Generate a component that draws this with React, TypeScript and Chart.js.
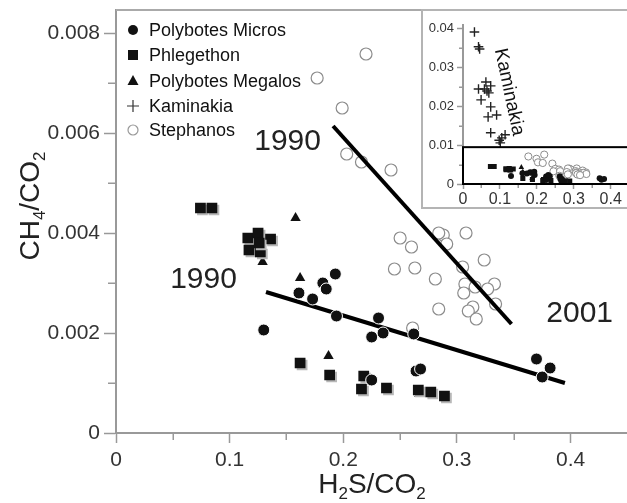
import React, { useEffect, useRef } from 'react';
import { Chart, registerables } from 'chart.js';

Chart.register(...registerables);

const FONT = '"Liberation Sans", Arial, Helvetica, sans-serif';

// ---------------- data ----------------
const seriesNames = ['Polybotes Micros', 'Phlegethon', 'Polybotes Megalos', 'Kaminakia', 'Stephanos'];

const microsX = [0.130, 0.161, 0.173, 0.182, 0.185, 0.193, 0.194, 0.225, 0.231, 0.235, 0.262, 0.225, 0.264, 0.268, 0.370, 0.382, 0.375];
const microsY = [0.00206, 0.0028, 0.00268, 0.0030, 0.00288, 0.00318, 0.00234, 0.00192, 0.0023, 0.0020, 0.00198, 0.00106, 0.00124, 0.00128, 0.00148, 0.0013, 0.00112];

const phlegX = [0.0743, 0.0844, 0.116, 0.125, 0.136, 0.117, 0.127, 0.126, 0.162, 0.188, 0.218, 0.216, 0.238, 0.266, 0.277, 0.289];
const phlegY = [0.0045, 0.0045, 0.0039, 0.0040, 0.00388, 0.00366, 0.00362, 0.0038, 0.0014, 0.00116, 0.00114, 0.00088, 0.0009, 0.00086, 0.00082, 0.00074];

const megalosX = [0.129, 0.158, 0.162, 0.187, 0.267];
const megalosY = [0.00342, 0.0043, 0.0031, 0.00154, 0.00078];

const kaminX = [0.031, 0.042, 0.045, 0.062, 0.042, 0.075, 0.070, 0.049, 0.075, 0.091, 0.068, 0.075, 0.114, 0.105, 0.101, 0.098, 0.058, 0.065];
const kaminY = [0.0392, 0.0354, 0.0348, 0.0263, 0.0245, 0.0253, 0.0235, 0.0217, 0.0199, 0.0178, 0.0173, 0.0132, 0.0127, 0.0119, 0.0106, 0.0113, 0.0245, 0.0240];

const stephX = [0.177, 0.220, 0.199, 0.203, 0.216, 0.242, 0.250, 0.260, 0.245, 0.263, 0.288, 0.291, 0.308, 0.284, 0.281, 0.305, 0.324, 0.307, 0.316, 0.333, 0.327, 0.306, 0.314, 0.310, 0.334, 0.284, 0.317, 0.261];
const stephY = [0.0071, 0.00758, 0.0065, 0.00558, 0.00542, 0.00526, 0.0039, 0.00372, 0.00328, 0.0033, 0.00396, 0.00378, 0.0040, 0.0040, 0.00308, 0.00332, 0.00346, 0.00298, 0.00292, 0.00298, 0.00288, 0.0028, 0.00252, 0.00244, 0.00258, 0.00248, 0.00228, 0.0021];

// regression lines (end points)
const steph1990X = [0.191, 0.348];
const steph1990Y = [0.00614, 0.00218];
const trendX = [0.132, 0.395];
const trendY = [0.00282, 0.0010];

// tick values
const xTicksMain = [0, 0.1, 0.2, 0.3, 0.4];
const xMinorMain = [0.05, 0.15, 0.25, 0.35];
const yTicksMain = [0, 0.002, 0.004, 0.006, 0.008];
const yMinorMain = [0.001, 0.003, 0.005, 0.007];
const xTicksInset = [0, 0.1, 0.2, 0.3, 0.4];
const xMinorInset = [0.05, 0.15, 0.25, 0.35];
const yTicksInset = [0, 0.01, 0.02, 0.03, 0.04];
const yMinorInset = [0.005, 0.015, 0.025, 0.035];

// annotations
const yearTexts = ['1990', '1990', '2001'];
const yearTextX = [0.151, 0.077, 0.408];
const yearTextY = [0.00582, 0.00306, 0.00238];
const insetBoxTop = 0.0095;

const pts = (xs: number[], ys: number[]) => xs.map((x, i) => ({ x, y: ys[i] }));

// ---------------- helpers ----------------
function drawRich(ctx: CanvasRenderingContext2D, parts: [string, boolean][], size: number, color: string) {
  const subSize = Math.round(size * 0.62);
  let total = 0;
  const widths: number[] = [];
  for (const [t, sub] of parts) {
    ctx.font = `${sub ? subSize : size}px ${FONT}`;
    const w = ctx.measureText(t).width;
    widths.push(w);
    total += w;
  }
  let x = -total / 2;
  ctx.fillStyle = color;
  ctx.textBaseline = 'alphabetic';
  ctx.textAlign = 'left';
  parts.forEach(([t, sub], i) => {
    ctx.font = `${sub ? subSize : size}px ${FONT}`;
    ctx.fillText(t, x, sub ? size * 0.2 : 0);
    x += widths[i];
  });
}

function drawMinor(chart: any, xs: number[], ys: number[], xLen: number, yLen: number) {
  const { ctx, chartArea } = chart;
  const sx = chart.scales.x;
  const sy = chart.scales.y;
  ctx.save();
  ctx.strokeStyle = '#999';
  ctx.lineWidth = 1.5;
  ctx.beginPath();
  ys.forEach((v) => {
    const p = Math.round(sy.getPixelForValue(v)) + 0.25;
    ctx.moveTo(chartArea.left - yLen, p);
    ctx.lineTo(chartArea.left, p);
  });
  xs.forEach((v) => {
    const p = Math.round(sx.getPixelForValue(v)) + 0.25;
    ctx.moveTo(p, chartArea.bottom);
    ctx.lineTo(p, chartArea.bottom + xLen);
  });
  ctx.stroke();
  ctx.restore();
}

function legendMarker(ctx: CanvasRenderingContext2D, kind: number, x: number, y: number) {
  ctx.save();
  ctx.fillStyle = '#111';
  ctx.strokeStyle = '#111';
  ctx.beginPath();
  if (kind === 0) {
    ctx.arc(x, y, 5, 0, Math.PI * 2);
    ctx.fill();
  } else if (kind === 1) {
    ctx.fillRect(x - 5, y - 5, 10, 10);
  } else if (kind === 2) {
    ctx.moveTo(x, y - 6);
    ctx.lineTo(x + 5.5, y + 4);
    ctx.lineTo(x - 5.5, y + 4);
    ctx.closePath();
    ctx.fill();
  } else if (kind === 3) {
    ctx.strokeStyle = '#333';
    ctx.lineWidth = 1.2;
    ctx.moveTo(x - 6, y);
    ctx.lineTo(x + 6, y);
    ctx.moveTo(x, y - 6);
    ctx.lineTo(x, y + 6);
    ctx.stroke();
  } else {
    ctx.strokeStyle = '#999';
    ctx.lineWidth = 1.2;
    ctx.arc(x, y, 5, 0, Math.PI * 2);
    ctx.stroke();
  }
  ctx.restore();
}

const shadowPlugin = {
  id: 'squareShadow',
  beforeDatasetDraw(chart: any, args: any) {
    if (chart.data.datasets[args.index].label === 'Phlegethon') {
      const ctx = chart.ctx;
      ctx.save();
      ctx.shadowColor = '#b8b8b8';
      ctx.shadowOffsetX = 2;
      ctx.shadowOffsetY = 2;
      ctx.shadowBlur = 0;
    }
  },
  afterDatasetDraw(chart: any, args: any) {
    if (chart.data.datasets[args.index].label === 'Phlegethon') {
      chart.ctx.restore();
    }
  },
};

const mainDecor = {
  id: 'mainDecor',
  afterDraw(chart: any) {
    const { ctx, chartArea } = chart;
    const sx = chart.scales.x;
    const sy = chart.scales.y;
    // top frame
    ctx.save();
    ctx.strokeStyle = '#aaa';
    ctx.lineWidth = 2;
    ctx.beginPath();
    ctx.moveTo(chartArea.left, chartArea.top);
    ctx.lineTo(chartArea.right + 5, chartArea.top);
    ctx.stroke();
    ctx.restore();

    drawMinor(chart, xMinorMain, yMinorMain, 7, 8);

    // axis titles
    ctx.save();
    ctx.translate(372, 493);
    drawRich(ctx, [['H', false], ['2', true], ['S/CO', false], ['2', true]], 28, '#222');
    ctx.restore();
    ctx.save();
    ctx.translate(39, 206);
    ctx.rotate(-Math.PI / 2);
    drawRich(ctx, [['CH', false], ['4', true], ['/CO', false], ['2', true]], 28, '#222');
    ctx.restore();

    // year labels
    ctx.save();
    ctx.font = `30px ${FONT}`;
    ctx.fillStyle = '#222';
    ctx.textAlign = 'center';
    ctx.textBaseline = 'middle';
    yearTexts.forEach((t, i) => {
      ctx.fillText(t, sx.getPixelForValue(yearTextX[i]), sy.getPixelForValue(yearTextY[i]));
    });
    ctx.restore();

    // legend
    ctx.save();
    const rows = [30, 55, 81, 106, 130];
    ctx.font = `18px ${FONT}`;
    ctx.textBaseline = 'middle';
    ctx.textAlign = 'left';
    seriesNames.forEach((n, i) => {
      legendMarker(ctx, i, 133, rows[i]);
      ctx.fillStyle = '#111';
      ctx.fillText(n, 149, rows[i] + 1);
    });
    ctx.restore();
  },
};

const insetDecor = {
  id: 'insetDecor',
  afterDraw(chart: any) {
    const { ctx, chartArea } = chart;
    const sx = chart.scales.x;
    const sy = chart.scales.y;
    drawMinor(chart, xMinorInset, yMinorInset, 4, 4);
    ctx.save();
    ctx.strokeStyle = '#000';
    ctx.lineWidth = 2;
    const top = sy.getPixelForValue(insetBoxTop);
    const bot = sy.getPixelForValue(0);
    ctx.strokeRect(chartArea.left, top, chartArea.right - chartArea.left + 20, bot - top);
    ctx.restore();

    ctx.save();
    ctx.translate(sx.getPixelForValue(0.125), sy.getPixelForValue(0.0237));
    ctx.rotate((78 * Math.PI) / 180);
    ctx.font = `19px ${FONT}`;
    ctx.fillStyle = '#111';
    ctx.textAlign = 'center';
    ctx.textBaseline = 'middle';
    ctx.fillText('Kaminakia', 0, 0);
    ctx.restore();
  },
};

function scatterSets(small: boolean) {
  return [
    {
      label: seriesNames[0],
      data: pts(microsX, microsY),
      pointStyle: 'circle',
      pointRadius: small ? 3 : 6,
      pointBackgroundColor: '#111',
      pointBorderColor: small ? '#111' : '#fff',
      pointBorderWidth: small ? 0 : 1,
      showLine: false,
      order: 0,
    },
    {
      label: seriesNames[1],
      data: pts(phlegX, phlegY),
      pointStyle: 'rect',
      pointRadius: small ? 3.6 : 7.6,
      pointBackgroundColor: '#111',
      pointBorderColor: '#111',
      pointBorderWidth: 0,
      showLine: false,
      order: 1,
    },
    {
      label: seriesNames[2],
      data: pts(megalosX, megalosY),
      pointStyle: 'triangle',
      pointRadius: small ? 3.2 : 6,
      pointBackgroundColor: '#111',
      pointBorderColor: '#111',
      pointBorderWidth: 0,
      showLine: false,
      order: 2,
    },
    {
      label: seriesNames[3],
      data: pts(kaminX, kaminY),
      pointStyle: 'cross',
      pointRadius: small ? 4.8 : 6,
      pointBackgroundColor: '#222',
      pointBorderColor: '#222',
      pointBorderWidth: small ? 1.4 : 1.2,
      showLine: false,
      clip: 0,
      order: 4,
    },
    {
      label: seriesNames[4],
      data: pts(stephX, stephY),
      pointStyle: 'circle',
      pointRadius: small ? 3.6 : 6,
      pointBackgroundColor: '#fff',
      pointBorderColor: '#8c8c8c',
      pointBorderWidth: small ? 1 : 1.2,
      showLine: false,
      order: 5,
    },
  ];
}

function axisOpts(min: number, max: number, values: number[], fmt: (v: number) => string, o: any) {
  return {
    type: 'linear',
    min,
    max,
    afterBuildTicks: (axis: any) => {
      axis.ticks = values.map((v) => ({ value: v }));
    },
    afterFit: (scale: any) => {
      if (o.width !== undefined) scale.width = o.width;
      if (o.height !== undefined) scale.height = o.height;
      scale.paddingTop = 0;
      scale.paddingBottom = 0;
      scale.paddingLeft = 0;
      scale.paddingRight = 0;
    },
    ticks: {
      autoSkip: false,
      maxRotation: 0,
      minRotation: 0,
      padding: o.padding,
      color: '#333',
      font: { family: FONT, size: o.font },
      callback: (v: number) => fmt(v),
    },
    grid: {
      display: true,
      drawOnChartArea: false,
      drawTicks: true,
      tickLength: o.tick,
      tickColor: '#999',
      tickWidth: 1.5,
    },
    border: { display: true, color: '#999', width: 2 },
  };
}

const fmtX = (v: number) => (v === 0 ? '0' : v.toFixed(1));
const fmtYMain = (v: number) => (v === 0 ? '0' : v.toFixed(3));
const fmtYInset = (v: number) => (v === 0 ? '0' : v.toFixed(2));

export default function App() {
  const mainRef = useRef<HTMLCanvasElement>(null);
  const insetRef = useRef<HTMLCanvasElement>(null);

  useEffect(() => {
    const main = new Chart(mainRef.current as HTMLCanvasElement, {
      type: 'scatter',
      data: {
        datasets: [
          ...scatterSets(false),
          {
            type: 'line',
            label: '1990 Stephanos trend',
            data: pts(steph1990X, steph1990Y),
            showLine: true,
            borderColor: '#000',
            borderWidth: 4,
            pointRadius: 0,
            fill: false,
            order: 3,
          },
          {
            type: 'line',
            label: '1990-2001 trend',
            data: pts(trendX, trendY),
            showLine: true,
            borderColor: '#000',
            borderWidth: 4,
            pointRadius: 0,
            fill: false,
            order: 3,
          },
        ] as any,
      },
      options: {
        animation: false,
        responsive: false,
        events: [],
        layout: { padding: { top: 10, right: 0, left: 0, bottom: 0 } },
        plugins: { legend: { display: false }, tooltip: { enabled: false } },
        scales: {
          x: axisOpts(0, 0.45, xTicksMain, fmtX, { height: 70, tick: 10, padding: 5, font: 21 }),
          y: axisOpts(0, 0.00846, yTicksMain, fmtYMain, { width: 116, tick: 12, padding: 4, font: 21 }),
        } as any,
      },
      plugins: [shadowPlugin, mainDecor],
    } as any);

    const inset = new Chart(insetRef.current as HTMLCanvasElement, {
      type: 'scatter',
      data: { datasets: scatterSets(true) as any },
      options: {
        animation: false,
        responsive: false,
        events: [],
        layout: { padding: { top: 14, right: 0, left: 0, bottom: 0 } },
        plugins: { legend: { display: false }, tooltip: { enabled: false } },
        scales: {
          x: axisOpts(0, 0.449, xTicksInset, fmtX, { height: 23, tick: 5, padding: 1, font: 16 }),
          y: axisOpts(0, 0.041, yTicksInset, fmtYInset, { width: 40, tick: 6, padding: 3, font: 13 }),
        } as any,
      },
      plugins: [insetDecor],
    } as any);

    return () => {
      main.destroy();
      inset.destroy();
    };
  }, []);

  return (
    <div style={{ position: 'fixed', left: 0, top: 0, width: 627, height: 503, overflow: 'hidden', background: '#fff' }}>
      <canvas ref={mainRef} width={635} height={503} style={{ position: 'absolute', left: 0, top: 0, width: 635, height: 503 }} />
      <div style={{ position: 'absolute', left: 421, top: 9, width: 240, height: 196, border: '2px solid #b4b4b4', background: '#fff', overflow: 'hidden' }}>
        <canvas ref={insetRef} width={212} height={196} style={{ position: 'absolute', left: 0, top: 0, width: 212, height: 196 }} />
      </div>
    </div>
  );
}
